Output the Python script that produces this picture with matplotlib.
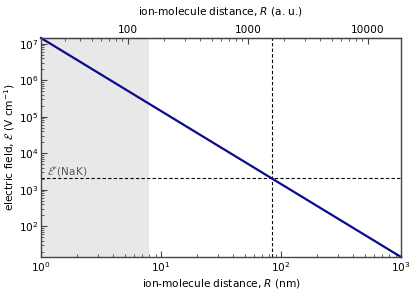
import numpy as np
import matplotlib
matplotlib.use("Agg")
import matplotlib.pyplot as plt

# field of a point charge at the two ends of the range
R_nm = [1.0, 1000.0]
E_field = [1.44e7, 14.4]

shade_nm = [1.0, 7.94]     # grey region
R_star = 83.6              # nm, vertical dashed line
E_star = 2.06e3            # V/cm, horizontal dashed line

NM_TO_AU = 18.897

plt.rcParams['font.size'] = 7.6
plt.rcParams['mathtext.fontset'] = 'dejavusans'

fig = plt.figure(figsize=(4.16, 2.91), dpi=100)
ax = fig.add_axes([41/416, 1-257/291, 360/416, 219/291])

ax.axvspan(shade_nm[0], shade_nm[1], color='#e8e8e8', lw=0, zorder=0)
ax.axhline(E_star, color='k', ls=(0, (3, 2)), lw=0.8, zorder=1)
ax.axvline(R_star, color='k', ls=(0, (3, 2)), lw=0.8, zorder=1)
ax.plot(R_nm, E_field, color='#0a0a8c', lw=1.6, zorder=2, clip_on=False)

ax.set_xscale('log')
ax.set_yscale('log')
ax.set_xlim(R_nm[0], R_nm[1])
ax.set_ylim(E_field[1], E_field[0])

ax.text(1.12, E_star*1.18, r'$\mathcal{E}^{*}$(NaK)', color='#555555')

ax.set_xlabel(r'ion-molecule distance, $R$ (nm)', labelpad=2.5)
ax.set_ylabel(r'electric field, $\mathcal{E}$ (V cm$^{-1}$)', labelpad=1)

for s in ax.spines.values():
    s.set_color('#444444')
    s.set_linewidth(1.0)

ax.tick_params(which='both', direction='in', top=False, right=False, color='#444444')
ax.tick_params(which='major', length=4, pad=2)
ax.tick_params(which='minor', length=2)

top = ax.secondary_xaxis('top', functions=(lambda x: x*NM_TO_AU, lambda x: x/NM_TO_AU))
top.set_xticks([100, 1000, 10000])
top.set_xticklabels(['100', '1000', '10000'])
top.tick_params(which='both', direction='in', color='#444444', pad=2)
top.tick_params(which='major', length=4)
top.tick_params(which='minor', length=2)
top.set_xlabel(r'ion-molecule distance, $R$ (a. u.)', labelpad=8)
top.spines['top'].set_color('#444444')

fig.savefig('out.png', dpi=100)
